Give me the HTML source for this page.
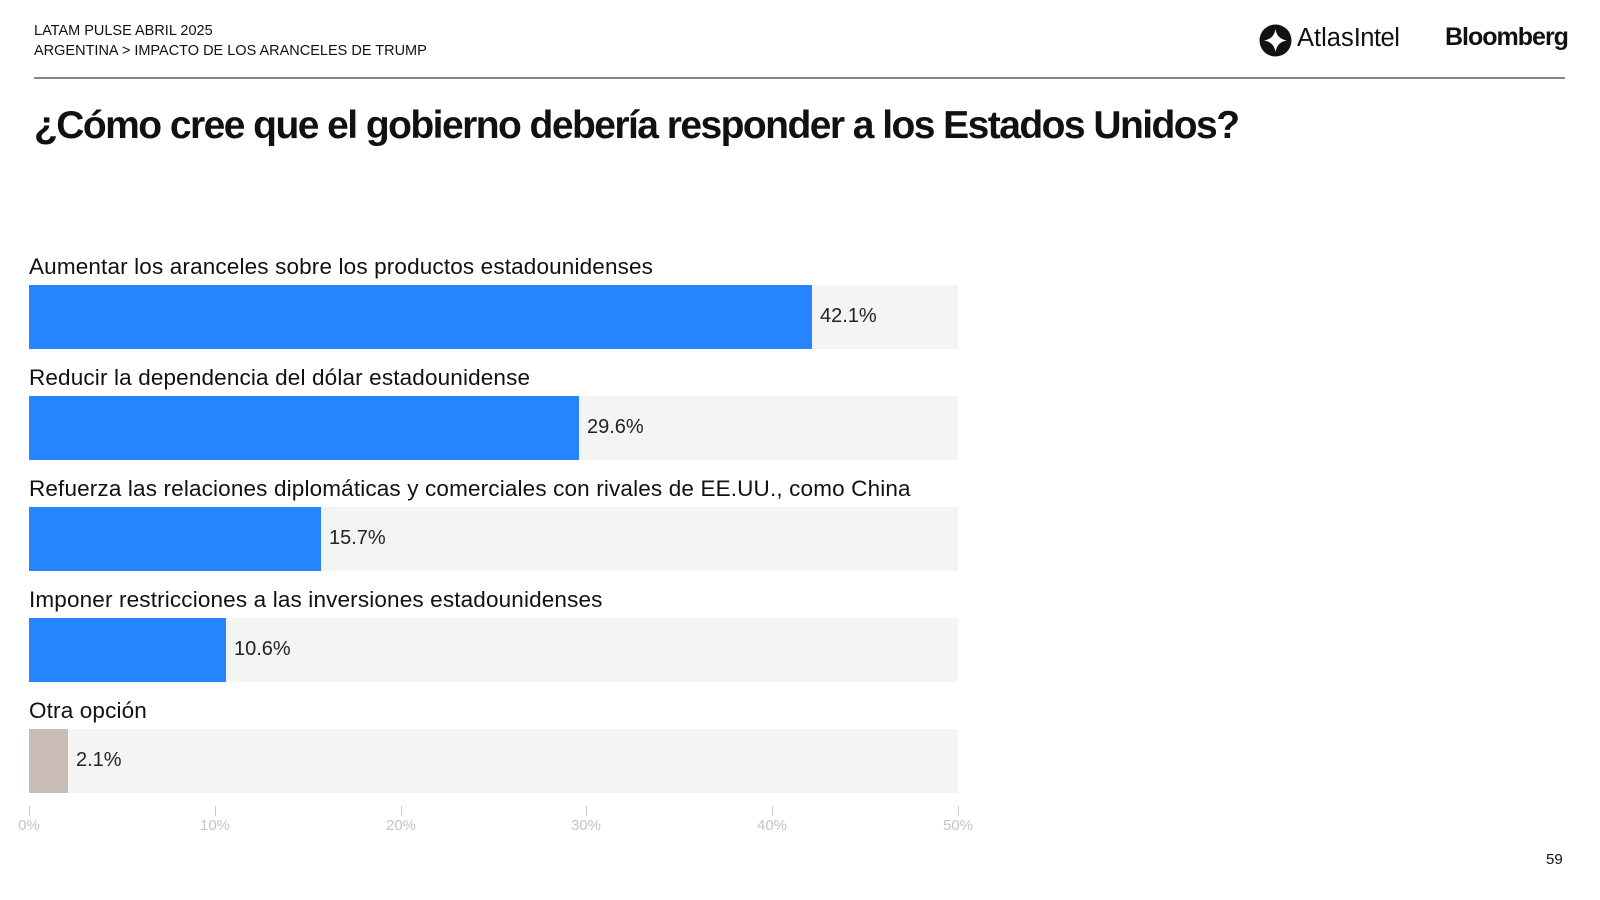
<!DOCTYPE html>
<html><head><meta charset="utf-8"><style>
body{margin:0;width:1600px;height:900px;background:#fff;font-family:"Liberation Sans",sans-serif;position:relative;overflow:hidden;color:#111}
.a{position:absolute;white-space:nowrap}
.lab{font-size:22.5px;letter-spacing:0.15px;color:#111;left:29px}
.trk{position:absolute;left:29px;width:929px;height:64px;background:#f4f4f2}
.bar{position:absolute;left:0;top:0;height:64px;background:#2684ff}
.val{position:absolute;top:20px;font-size:20px;color:#222}
.tk{position:absolute;top:806px;width:1px;height:10px;background:#ccc}
.tl{position:absolute;top:817px;font-size:15px;color:#c4c4c4;transform:translateX(-50%)}
</style></head><body>
<div class="a" style="left:34px;top:23px;font-size:14.5px">LATAM PULSE ABRIL 2025</div>
<div class="a" style="left:34px;top:43px;font-size:14.5px">ARGENTINA &gt; IMPACTO DE LOS ARANCELES DE TRUMP</div>
<div class="a" style="left:34px;top:77px;width:1531px;height:2px;background:#888"></div>
<svg class="a" style="left:1259px;top:24px" width="33" height="33" viewBox="0 0 33 33"><circle cx="16.5" cy="16.5" r="16" fill="#111"/><path d="M16.5 5 Q18 15 28 16.5 Q18 18 16.5 28 Q15 18 5 16.5 Q15 15 16.5 5Z" fill="#fff"/></svg>
<div class="a" style="left:1297px;top:24px;font-size:25.5px;color:#111">Atlas<span style="letter-spacing:-0.5px">Intel</span></div>
<div class="a" style="left:1445px;top:23px;font-size:25px;font-weight:bold;letter-spacing:-1px">Bloomberg</div>
<div class="a" style="left:34px;top:104px;font-size:39px;font-weight:bold;letter-spacing:-1.55px">¿Cómo cree que el gobierno debería responder a los Estados Unidos?</div>

<div class="a lab" style="top:254px">Aumentar los aranceles sobre los productos estadounidenses</div>
<div class="trk" style="top:285px"><div class="bar" style="width:783px"></div><div class="val" style="left:791px">42.1%</div></div>
<div class="a lab" style="top:365px">Reducir la dependencia del dólar estadounidense</div>
<div class="trk" style="top:396px"><div class="bar" style="width:550px"></div><div class="val" style="left:558px">29.6%</div></div>
<div class="a lab" style="top:476px">Refuerza las relaciones diplomáticas y comerciales con rivales de EE.UU., como China</div>
<div class="trk" style="top:507px"><div class="bar" style="width:292px"></div><div class="val" style="left:300px">15.7%</div></div>
<div class="a lab" style="top:587px">Imponer restricciones a las inversiones estadounidenses</div>
<div class="trk" style="top:618px"><div class="bar" style="width:197px"></div><div class="val" style="left:205px">10.6%</div></div>
<div class="a lab" style="top:698px">Otra opción</div>
<div class="trk" style="top:729px"><div class="bar" style="width:39px;background:#c8bcb4"></div><div class="val" style="left:47px">2.1%</div></div>

<div class="tk" style="left:29px"></div><div class="tl" style="left:29px">0%</div>
<div class="tk" style="left:215px"></div><div class="tl" style="left:215px">10%</div>
<div class="tk" style="left:401px"></div><div class="tl" style="left:401px">20%</div>
<div class="tk" style="left:586px"></div><div class="tl" style="left:586px">30%</div>
<div class="tk" style="left:772px"></div><div class="tl" style="left:772px">40%</div>
<div class="tk" style="left:958px"></div><div class="tl" style="left:958px">50%</div>
<div class="a" style="left:1546px;top:851px;font-size:15px">59</div>
</body></html>
